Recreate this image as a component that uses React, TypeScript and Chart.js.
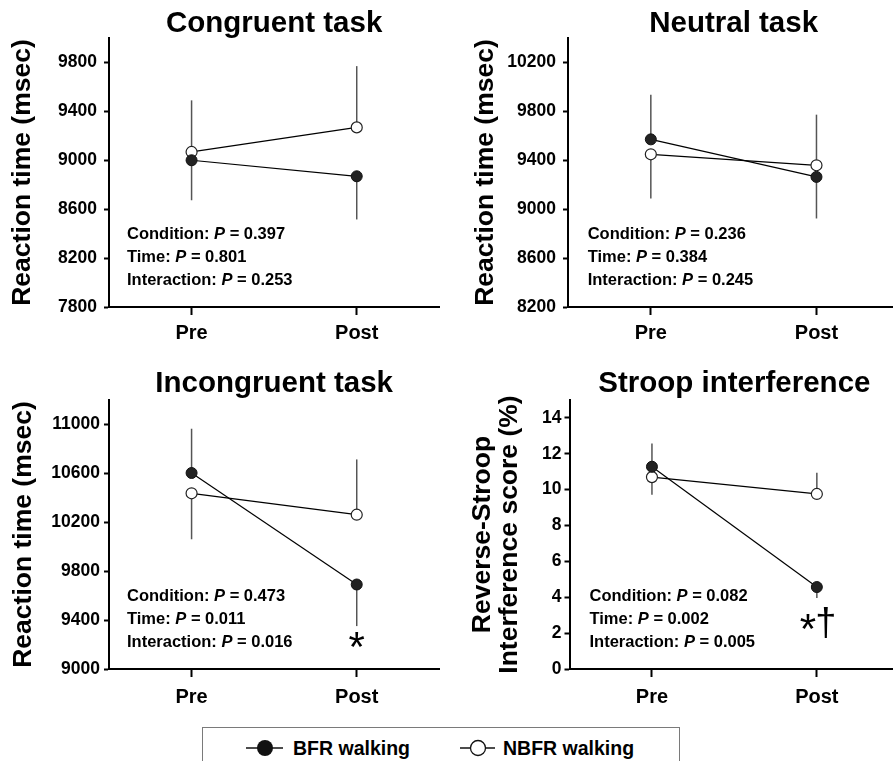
import React, { useEffect, useRef } from 'react';
import { Chart, registerables } from 'chart.js';

Chart.register(...registerables);

const FONT = "'Liberation Sans', Arial, Helvetica, sans-serif";

// ---------- data ----------
const timePoints = ['Pre', 'Post'];
const seriesNames = ['BFR walking', 'NBFR walking'];
const statLabels = ['Condition', 'Time', 'Interaction'];

const congruentBFR = [9000, 8869];
const congruentNBFR = [9068, 9269];
const congruentBFRErr = [-327, -353];
const congruentNBFRErr = [422, 501];
const congruentRange = [7800, 10000];
const congruentTicks = [7800, 8200, 8600, 9000, 9400, 9800];
const congruentStats = ['0.397', '0.801', '0.253'];
const congruentMarks: string[] = [];
const congruentMarkValues: number[] = [];

const neutralBFR = [9571, 9264];
const neutralNBFR = [9449, 9359];
const neutralBFRErr = [365, -340];
const neutralNBFRErr = [-362, 414];
const neutralRange = [8200, 10400];
const neutralTicks = [8200, 8600, 9000, 9400, 9800, 10200];
const neutralStats = ['0.236', '0.384', '0.245'];
const neutralMarks: string[] = [];
const neutralMarkValues: number[] = [];

const incongruentBFR = [10603, 9691];
const incongruentNBFR = [10437, 10262];
const incongruentBFRErr = [362, -340];
const incongruentNBFRErr = [-376, 452];
const incongruentRange = [9000, 11200];
const incongruentTicks = [9000, 9400, 9800, 10200, 10600, 11000];
const incongruentStats = ['0.473', '0.011', '0.016'];
const incongruentMarks = ['*'];
const incongruentMarkValues = [9237];

const stroopBFR = [11.28, 4.57];
const stroopNBFR = [10.7, 9.76];
const stroopBFRErr = [1.3, -0.61];
const stroopNBFRErr = [-0.98, 1.18];
const stroopRange = [0, 15];
const stroopTicks = [0, 2, 4, 6, 8, 10, 12, 14];
const stroopStats = ['0.082', '0.002', '0.005'];
const stroopMarks = ['*', '†'];
const stroopMarkValues = [2.64, 2.6];

// ---------- panels ----------
type Panel = {
  title: string;
  yTitle: string | string[];
  bfr: number[];
  nbfr: number[];
  bfrErr: number[];
  nbfrErr: number[];
  range: number[];
  ticks: number[];
  stats: string[];
  marks: string[];
  markValues: number[];
  box: { x: number; y: number; w: number; h: number };
  area: { l: number; t: number; r: number; b: number };
  titleCenter: number;
  yTitleCenter: number;
  yTitleLH: number;
  tickPad: number;
  xPad: number;
  statsX: number;
};

const panels: Panel[] = [
  {
    title: 'Congruent task', yTitle: 'Reaction time (msec)',
    bfr: congruentBFR, nbfr: congruentNBFR, bfrErr: congruentBFRErr, nbfrErr: congruentNBFRErr,
    range: congruentRange, ticks: congruentTicks, stats: congruentStats,
    marks: congruentMarks, markValues: congruentMarkValues,
    box: { x: 0, y: 0, w: 446, h: 350 }, area: { l: 109, t: 38, r: 440, b: 307 },
    titleCenter: 23.5, yTitleCenter: 23, yTitleLH: 31.8, tickPad: 7, xPad: 6, statsX: 18,
  },
  {
    title: 'Neutral task', yTitle: 'Reaction time (msec)',
    bfr: neutralBFR, nbfr: neutralNBFR, bfrErr: neutralBFRErr, nbfrErr: neutralNBFRErr,
    range: neutralRange, ticks: neutralTicks, stats: neutralStats,
    marks: neutralMarks, markValues: neutralMarkValues,
    box: { x: 446, y: 0, w: 460, h: 350 }, area: { l: 568, t: 38, r: 901, b: 307 },
    titleCenter: 23.5, yTitleCenter: 40, yTitleLH: 31.8, tickPad: 7, xPad: 6, statsX: 19.7,
  },
  {
    title: 'Incongruent task', yTitle: 'Reaction time (msec)',
    bfr: incongruentBFR, nbfr: incongruentNBFR, bfrErr: incongruentBFRErr, nbfrErr: incongruentNBFRErr,
    range: incongruentRange, ticks: incongruentTicks, stats: incongruentStats,
    marks: incongruentMarks, markValues: incongruentMarkValues,
    box: { x: 0, y: 350, w: 446, h: 380 }, area: { l: 109, t: 400, r: 440, b: 669 },
    titleCenter: 33.5, yTitleCenter: 23.5, yTitleLH: 31.8, tickPad: 4, xPad: 8.5, statsX: 18,
  },
  {
    title: 'Stroop interference', yTitle: ['Reverse-Stroop', 'Interference score (%)'],
    bfr: stroopBFR, nbfr: stroopNBFR, bfrErr: stroopBFRErr, nbfrErr: stroopNBFRErr,
    range: stroopRange, ticks: stroopTicks, stats: stroopStats,
    marks: stroopMarks, markValues: stroopMarkValues,
    box: { x: 446, y: 350, w: 460, h: 380 }, area: { l: 569.5, t: 400, r: 901, b: 669 },
    titleCenter: 33.5, yTitleCenter: 36.7, yTitleLH: 26.7, tickPad: 3, xPad: 8.5, statsX: 20,
  },
];

function buildConfig(p: Panel): any {
  const yWidth = p.area.l - p.box.x;
  const titleH = p.area.t - p.box.y;
  const xH = p.box.y + p.box.h - p.area.b;
  const padRight = p.box.x + p.box.w - p.area.r;
  const titleSize = 29.5;
  const titleLH = titleSize * 0.9;
  const tPadTop = p.titleCenter - titleLH / 2;
  const tPadBottom = titleH - tPadTop - titleLH;
  const errs = [p.bfrErr, p.nbfrErr];

  const errorBars = {
    id: 'errorBars',
    beforeDatasetsDraw(chart: any) {
      const ctx = chart.ctx;
      const ys = chart.scales.y;
      ctx.save();
      ctx.strokeStyle = '#555';
      ctx.lineWidth = 1.5;
      chart.data.datasets.forEach((ds: any, d: number) => {
        const meta = chart.getDatasetMeta(d);
        ds.data.forEach((v: number, i: number) => {
          const x = meta.data[i].x;
          ctx.beginPath();
          ctx.moveTo(x, ys.getPixelForValue(v));
          ctx.lineTo(x, ys.getPixelForValue(v + errs[d][i]));
          ctx.stroke();
        });
      });
      ctx.restore();
    },
  };

  const annotations = {
    id: 'annotations',
    afterDraw(chart: any) {
      const ctx = chart.ctx;
      const area = chart.chartArea;
      const size = 16.5;
      const bold = `bold ${size}px ${FONT}`;
      const boldItalic = `italic bold ${size}px ${FONT}`;
      const offsets = [73, 49.7, 26.3];
      ctx.save();
      ctx.fillStyle = '#000';
      ctx.textBaseline = 'middle';
      ctx.textAlign = 'left';
      statLabels.forEach((lab, i) => {
        let x = area.left + p.statsX;
        const y = area.bottom - offsets[i];
        ctx.font = bold;
        const a = `${lab}: `;
        ctx.fillText(a, x, y);
        x += ctx.measureText(a).width;
        ctx.font = boldItalic;
        ctx.fillText('P', x, y);
        x += ctx.measureText('P').width;
        ctx.font = bold;
        ctx.fillText(` = ${p.stats[i]}`, x, y);
      });
      // significance marks
      const xs = chart.scales.x;
      const ys = chart.scales.y;
      const postX = xs.getPixelForValue(1);
      const n = p.marks.length;
      const spacing = 17.7;
      p.marks.forEach((m, i) => {
        const fs = m === '*' ? 42 : 38;
        ctx.font = `normal ${fs}px ${FONT}`;
        ctx.textBaseline = 'alphabetic';
        ctx.textAlign = 'center';
        const mt = ctx.measureText(m);
        const cy = ys.getPixelForValue(p.markValues[i]);
        const base = cy + (mt.actualBoundingBoxAscent - mt.actualBoundingBoxDescent) / 2;
        const cx = postX + (i - (n - 1) / 2) * spacing;
        ctx.fillText(m, cx, base);
      });
      ctx.restore();
    },
  };

  return {
    type: 'line',
    data: {
      labels: timePoints,
      datasets: [
        {
          label: seriesNames[0], data: p.bfr, borderColor: '#000', borderWidth: 1.2,
          pointRadius: 5.5, pointBackgroundColor: '#222', pointBorderColor: '#111',
          pointBorderWidth: 1, fill: false, tension: 0,
        },
        {
          label: seriesNames[1], data: p.nbfr, borderColor: '#000', borderWidth: 1.2,
          pointRadius: 5.5, pointBackgroundColor: '#fff', pointBorderColor: '#222',
          pointBorderWidth: 1.2, fill: false, tension: 0,
        },
      ],
    },
    options: {
      animation: false,
      responsive: false,
      maintainAspectRatio: false,
      devicePixelRatio: 1,
      layout: { padding: { left: 0, top: 0, bottom: 0, right: padRight } },
      plugins: {
        legend: { display: false },
        tooltip: { enabled: false },
        title: {
          display: true,
          text: p.title,
          fullSize: false,
          color: '#000',
          font: { family: FONT, size: titleSize, weight: 'bold', lineHeight: 0.9 },
          padding: { top: tPadTop, bottom: tPadBottom },
        },
      },
      scales: {
        x: {
          type: 'category',
          offset: true,
          afterFit: (s: any) => { s.height = xH; },
          border: { display: true, width: 2, color: '#000' },
          grid: {
            display: true, drawOnChartArea: false, drawTicks: true,
            tickLength: 8, tickWidth: 2, tickColor: '#000', color: '#000',
          },
          ticks: {
            color: '#000', padding: p.xPad, maxRotation: 0,
            font: { family: FONT, size: 20, weight: 'bold', lineHeight: 1.2 },
          },
        },
        y: {
          type: 'linear',
          min: p.range[0],
          max: p.range[1],
          afterFit: (s: any) => { s.width = yWidth; },
          afterBuildTicks: (s: any) => { s.ticks = p.ticks.map((v) => ({ value: v })); },
          border: { display: true, width: 2, color: '#000' },
          grid: {
            display: true, drawOnChartArea: false, drawTicks: true,
            tickLength: 5, tickWidth: 2, tickColor: '#000', color: '#000',
          },
          ticks: {
            color: '#000', padding: p.tickPad,
            font: { family: FONT, size: 17.5, weight: 'bold' },
            callback: (v: any) => String(v),
          },
          title: {
            display: true,
            text: p.yTitle,
            color: '#000',
            font: { family: FONT, size: 26.5, weight: 'bold', lineHeight: `${p.yTitleLH}px` },
            padding: { top: p.yTitleCenter - p.yTitleLH / 2, bottom: 0 },
          },
        },
      },
    },
    plugins: [errorBars, annotations],
  };
}

function PanelChart({ p }: { p: Panel }) {
  const ref = useRef<HTMLCanvasElement>(null);
  useEffect(() => {
    const chart = new Chart(ref.current as HTMLCanvasElement, buildConfig(p));
    return () => chart.destroy();
  }, [p]);
  return (
    <canvas
      ref={ref}
      width={p.box.w}
      height={p.box.h}
      style={{ position: 'absolute', left: p.box.x, top: p.box.y, width: p.box.w, height: p.box.h }}
    />
  );
}

function Legend() {
  const textStyle: React.CSSProperties = {
    position: 'absolute', top: 11, fontFamily: FONT, fontWeight: 'bold',
    fontSize: 19.5, lineHeight: '19.5px', color: '#000', whiteSpace: 'nowrap',
  };
  return (
    <div
      style={{
        position: 'absolute', left: 202, top: 727, width: 478, height: 60,
        border: '1.5px solid #7a7a7a', boxSizing: 'border-box', background: '#fff', zIndex: 5,
      }}
    >
      <svg style={{ position: 'absolute', left: 43, top: 0 }} width={40} height={42}>
        <line x1={0} y1={20} x2={37} y2={20} stroke="#111" strokeWidth={1.5} />
        <circle cx={19} cy={20} r={8} fill="#111" />
      </svg>
      <span style={{ ...textStyle, left: 90 }}>{seriesNames[0]}</span>
      <svg style={{ position: 'absolute', left: 257, top: 0 }} width={40} height={42}>
        <line x1={0} y1={20} x2={35} y2={20} stroke="#111" strokeWidth={1.5} />
        <circle cx={18} cy={20} r={7.5} fill="#fff" stroke="#111" strokeWidth={1.3} />
      </svg>
      <span style={{ ...textStyle, left: 300 }}>{seriesNames[1]}</span>
    </div>
  );
}

export default function App() {
  return (
    <>
      <style>{'html,body{margin:0;padding:0;overflow:hidden;background:#fff;}'}</style>
      <div style={{ position: 'relative', width: 893, height: 761, overflow: 'hidden', background: '#fff' }}>
        {panels.map((p, i) => (
          <PanelChart key={i} p={p} />
        ))}
        <Legend />
      </div>
    </>
  );
}
